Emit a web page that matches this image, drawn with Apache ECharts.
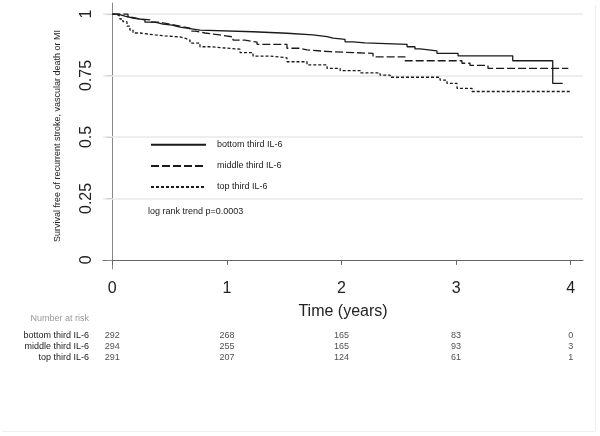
<!DOCTYPE html>
<html>
<head>
<meta charset="utf-8">
<script src="https://cdn.jsdelivr.net/npm/echarts@6/dist/echarts.min.js"></script>
<style>
html,body{margin:0;padding:0;background:#fff;}
#c{width:600px;height:436px;}
</style>
</head>
<body>
<div id="c"></div>
<script>
// ---- data ----
var seriesNames = ['bottom third IL-6', 'middle third IL-6', 'top third IL-6'];
// Kaplan-Meier steps: [time (years), survival]
var bottomThird = [[0,1.000],[0.05,0.992],[0.11,0.984],[0.18,0.976],[0.285,0.967],[0.373,0.959],[0.443,0.955],[0.521,0.947],[0.591,0.941],[0.678,0.935],[0.765,0.928],[1.228,0.922],[1.524,0.915],[1.751,0.908],[1.874,0.902],[1.926,0.897],[2.031,0.887],[2.10,0.883],[2.205,0.877],[2.572,0.867],[2.641,0.858],[2.685,0.850],[2.833,0.840],[3.017,0.830],[3.494,0.810],[3.843,0.718],[3.930,0.718]];
var middleThird = [[0,1.000],[0.137,0.988],[0.163,0.980],[0.242,0.976],[0.329,0.967],[0.416,0.959],[0.503,0.951],[0.591,0.943],[0.678,0.931],[0.722,0.923],[0.809,0.915],[0.940,0.907],[1.053,0.894],[1.158,0.886],[1.263,0.877],[1.524,0.861],[1.638,0.854],[1.699,0.847],[1.900,0.840],[2.275,0.826],[2.554,0.810],[3.051,0.800],[3.121,0.791],[3.278,0.779],[3.979,0.779]];
var topThird = [[0,1.000],[0.032,0.992],[0.067,0.980],[0.093,0.969],[0.128,0.951],[0.154,0.935],[0.181,0.923],[0.242,0.915],[0.373,0.911],[0.460,0.907],[0.591,0.902],[0.634,0.894],[0.678,0.882],[0.765,0.867],[0.853,0.862],[0.984,0.857],[1.115,0.843],[1.228,0.829],[1.376,0.822],[1.524,0.806],[1.699,0.793],[1.874,0.779],[1.988,0.770],[2.162,0.761],[2.336,0.752],[2.424,0.743],[2.860,0.731],[2.920,0.718],[3.008,0.698],[3.139,0.685],[4.009,0.685]];
var xTicks = [0, 1, 2, 3, 4];
var yTicks = [0, 0.25, 0.5, 0.75, 1];
var gridValues = [0.25, 0.5, 0.75, 1];
var riskTimes = [0, 1, 2, 3, 4];
var riskBottom = [292, 268, 165, 83, 0];
var riskMiddle = [294, 255, 165, 93, 3];
var riskTop = [291, 207, 124, 61, 1];
var annotation = 'log rank trend p=0.0003';

// ---- build ----
var FONT = '"Liberation Sans", Arial, sans-serif';
var lineColor = '#1a1a1a';
var dashTypes = ['solid', [8, 3], [3, 2]];
var curves = [bottomThird, middleThird, topThird];
var riskRows = [riskBottom, riskMiddle, riskTop];

var riskData = [];
riskRows.forEach(function (row, ri) {
  row.forEach(function (n, ti) { riskData.push([riskTimes[ti], seriesNames[ri], n]); });
});

var series = curves.map(function (d, i) {
  var s = {
    name: seriesNames[i], type: 'line', step: 'end', data: d,
    symbol: 'none', xAxisIndex: 0, yAxisIndex: 0, silent: true,
    lineStyle: { color: lineColor, width: 1.3, type: dashTypes[i] },
    itemStyle: { color: lineColor },
    z: 5
  };
  if (i === 0) {
    s.markLine = {
      silent: true, symbol: 'none', label: { show: false },
      lineStyle: { color: '#e8e8e8', width: 1.5, type: 'solid' },
      data: gridValues.map(function (v) { return { yAxis: v }; }),
      z: 1
    };
  }
  return s;
});
series.push({
  type: 'scatter', xAxisIndex: 1, yAxisIndex: 1, symbolSize: 0, silent: true,
  data: riskData,
  label: { show: true, position: 'inside', formatter: function (p) { return p.value[2]; },
           fontSize: 9, color: '#222', fontFamily: FONT }
});

var chart = echarts.init(document.getElementById('c'), null, { renderer: 'canvas' });
chart.setOption({
  animation: false,
  backgroundColor: '#fff',
  textStyle: { fontFamily: FONT },
  grid: [
    { left: 103, right: 17, top: 3, bottom: 167 },
    { left: 103, right: 17, top: 330.5, height: 32.5 }
  ],
  legend: {
    orient: 'vertical', left: 150, top: 140, padding: 0,
    itemWidth: 55, itemHeight: 12, itemGap: 11.5,
    data: seriesNames, selectedMode: false,
    itemStyle: { opacity: 0 },
    textStyle: { fontSize: 9, color: '#222', fontFamily: FONT, padding: [0, 0, 0, 6] }
  },
  xAxis: [
    {
      type: 'value', gridIndex: 0, min: -0.081, max: 4.107,
      name: 'Time (years)', nameLocation: 'middle', nameGap: 35,
      nameTextStyle: { fontSize: 16, color: '#222' },
      axisLine: { show: true, lineStyle: { color: '#666', width: 1 } },
      axisTick: { show: true, customValues: xTicks, length: 5, lineStyle: { color: '#666' } },
      axisLabel: { customValues: xTicks, fontSize: 16, color: '#222', margin: 12 },
      splitLine: { show: false }
    },
    {
      type: 'value', gridIndex: 1, min: -0.081, max: 4.107, show: false
    }
  ],
  yAxis: [
    {
      type: 'value', gridIndex: 0, min: -0.037, max: 1.045,
      name: 'Survival free of recurrent stroke, vascular death or MI',
      nameLocation: 'middle', nameRotate: 90, nameGap: 41,
      nameTextStyle: { fontSize: 9, color: '#222' },
      axisLine: { show: true, lineStyle: { color: '#888', width: 1 } },
      axisTick: { show: true, customValues: yTicks, length: 6, lineStyle: { color: '#888' } },
      axisLabel: { customValues: yTicks, fontSize: 16, color: '#222', rotate: 90, margin: 8 },
      splitLine: { show: false }
    },
    {
      type: 'category', gridIndex: 1, data: seriesNames, inverse: true,
      axisLine: { show: false }, axisTick: { show: false }, splitLine: { show: false },
      axisLabel: { interval: 0, fontSize: 9, color: '#222', margin: 14 }
    }
  ],
  graphic: [
    { type: 'text', left: 148, top: 207, style: { text: annotation, fontSize: 9, fill: '#222', fontFamily: FONT } },
    { type: 'text', right: 511, top: 314, style: { text: 'Number at risk', fontSize: 9, fill: '#999', fontFamily: FONT } },
    { type: 'line', shape: { x1: 595.5, y1: 5, x2: 595.5, y2: 431 }, style: { stroke: '#eeeeee', lineWidth: 1 } },
    { type: 'line', shape: { x1: 3, y1: 431.5, x2: 595.5, y2: 431.5 }, style: { stroke: '#eeeeee', lineWidth: 1 } }
  ],
  series: series
});
</script>
</body>
</html>
